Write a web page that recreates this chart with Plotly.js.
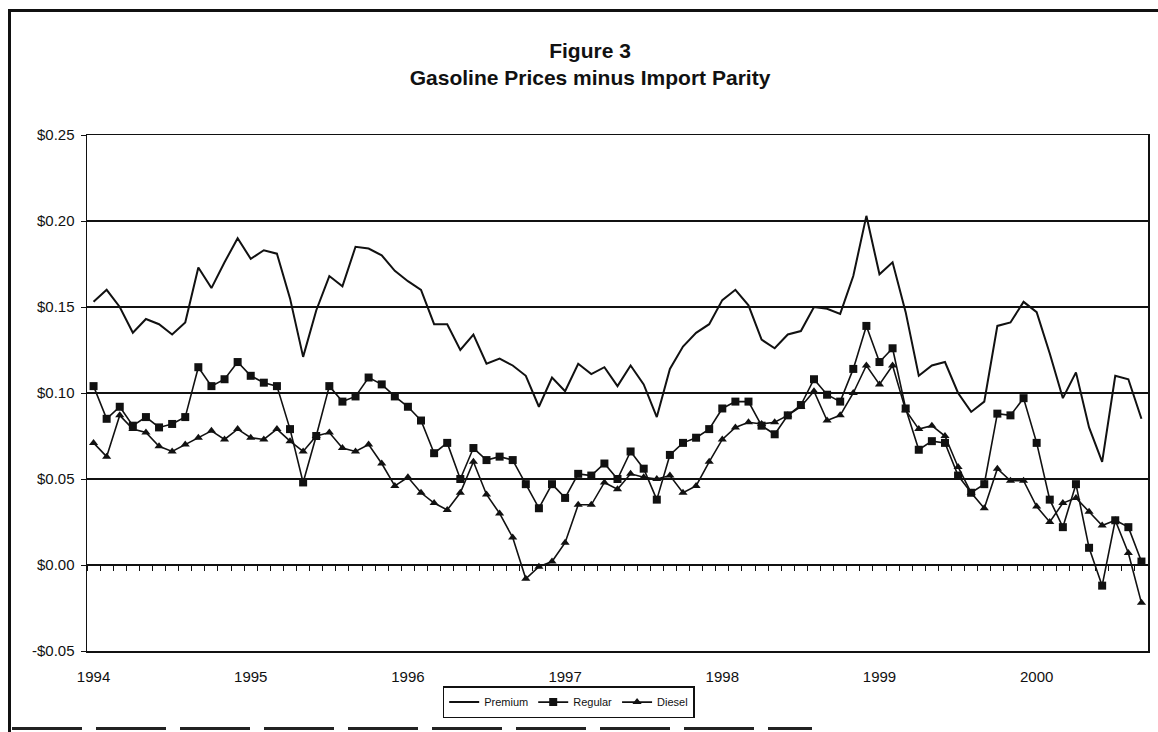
<!DOCTYPE html>
<html>
<head>
<meta charset="utf-8">
<script src="https://cdn.plot.ly/plotly-3.0.1.min.js"></script>
<style>
  html, body { margin: 0; padding: 0; background: #fff; }
  #wrap { position: relative; width: 1158px; height: 732px; overflow: hidden; }
  #chart { position: absolute; left: 0; top: 0; width: 1158px; height: 732px; }
  #frame { position: absolute; left: 8px; top: 9px; width: 1160px; height: 740px;
           border-left: 3px solid #111; border-top: 3px solid #111; pointer-events: none; }
  #base { position: absolute; left: 12px; top: 727px; width: 800px; height: 3px;
          background: repeating-linear-gradient(90deg, #222 0px, #222 70px, transparent 70px, transparent 84px);
          pointer-events: none; }
</style>
</head>
<body>
<div id="wrap">
  <div id="chart"></div>
  <div id="frame"></div>
  <div id="base"></div>
</div>
<script>
// Tick labels
var yearLabels = ['1994', '1995', '1996', '1997', '1998', '1999', '2000'];
var yearTickIndex = [0, 12, 24, 36, 48, 60, 72];
var yTickValues = [-0.05, 0.00, 0.05, 0.10, 0.15, 0.20, 0.25];
var yTickText = ['-$0.05', '$0.00', '$0.05', '$0.10', '$0.15', '$0.20', '$0.25'];

// Monthly series, Jan 1994 .. Sep 2000 ($ per gallon)
var premium = [
  0.153, 0.160, 0.150, 0.135, 0.143, 0.140, 0.134, 0.141, 0.173, 0.161, 0.176, 0.190,
  0.178, 0.183, 0.181, 0.155, 0.121, 0.148, 0.168, 0.162, 0.185, 0.184, 0.180, 0.171,
  0.165, 0.160, 0.140, 0.140, 0.125, 0.134, 0.117, 0.120, 0.116, 0.110, 0.092, 0.109,
  0.101, 0.117, 0.111, 0.115, 0.104, 0.116, 0.105, 0.086, 0.114, 0.127, 0.135, 0.140,
  0.154, 0.160, 0.151, 0.131, 0.126, 0.134, 0.136, 0.150, 0.149, 0.146, 0.168, 0.203,
  0.169, 0.176, 0.147, 0.110, 0.116, 0.118, 0.100, 0.089, 0.095, 0.139, 0.141, 0.153,
  0.147, 0.123, 0.097, 0.112, 0.080, 0.060, 0.110, 0.108, 0.085
];
var regular = [
  0.104, 0.085, 0.092, 0.081, 0.086, 0.080, 0.082, 0.086, 0.115, 0.104, 0.108, 0.118,
  0.110, 0.106, 0.104, 0.079, 0.048, 0.075, 0.104, 0.095, 0.098, 0.109, 0.105, 0.098,
  0.092, 0.084, 0.065, 0.071, 0.050, 0.068, 0.061, 0.063, 0.061, 0.047, 0.033, 0.047,
  0.039, 0.053, 0.052, 0.059, 0.050, 0.066, 0.056, 0.038, 0.064, 0.071, 0.074, 0.079,
  0.091, 0.095, 0.095, 0.081, 0.076, 0.087, 0.093, 0.108, 0.099, 0.095, 0.114, 0.139,
  0.118, 0.126, 0.091, 0.067, 0.072, 0.071, 0.052, 0.042, 0.047, 0.088, 0.087, 0.097,
  0.071, 0.038, 0.022, 0.047, 0.010, -0.012, 0.026, 0.022, 0.002
];
var diesel = [
  0.071, 0.063, 0.087, 0.079, 0.077, 0.069, 0.066, 0.070, 0.074, 0.078, 0.073, 0.079,
  0.074, 0.073, 0.079, 0.072, 0.066, 0.075, 0.077, 0.068, 0.066, 0.070, 0.059, 0.046,
  0.051, 0.042, 0.036, 0.032, 0.042, 0.060, 0.041, 0.030, 0.016, -0.008, -0.001, 0.002,
  0.013, 0.035, 0.035, 0.048, 0.044, 0.053, 0.051, 0.050, 0.052, 0.042, 0.046, 0.060,
  0.073, 0.080, 0.083, 0.082, 0.083, 0.087, 0.092, 0.101, 0.084, 0.087, 0.100, 0.116,
  0.105, 0.116, 0.090, 0.079, 0.081, 0.075, 0.057, 0.042, 0.033, 0.056, 0.049, 0.049,
  0.034, 0.025, 0.036, 0.039, 0.031, 0.023, 0.026, 0.007, -0.022
];

var monthIndex = premium.map(function (_, i) { return i; });

var traces = [
  { name: 'Premium', x: monthIndex, y: premium, type: 'scatter', mode: 'lines',
    line: { color: '#111', width: 2 } },
  { name: 'Regular', x: monthIndex, y: regular, type: 'scatter', mode: 'lines+markers',
    line: { color: '#111', width: 1.6 },
    marker: { symbol: 'square', size: 8, color: '#111' } },
  { name: 'Diesel', x: monthIndex, y: diesel, type: 'scatter', mode: 'lines+markers',
    line: { color: '#111', width: 1.6 },
    marker: { symbol: 'triangle-up', size: 8, color: '#111' } },
  { x: [null], y: [null], xaxis: 'x2', showlegend: false, hoverinfo: 'skip', mode: 'lines' }
];

var layout = {
  width: 1158, height: 732,
  margin: { l: 87, r: 10, t: 135, b: 81 },
  paper_bgcolor: '#fff', plot_bgcolor: '#fff',
  font: { family: 'Liberation Sans, Arial, sans-serif', color: '#111' },
  title: {
    text: '<b>Figure 3</b><br><b>Gasoline Prices minus Import Parity</b>',
    font: { family: 'Liberation Sans, Arial, sans-serif', size: 21, color: '#111' },
    x: 590 / 1158, xref: 'container', xanchor: 'center',
    y: 1 - 58 / 732, yref: 'container', yanchor: 'middle'
  },
  xaxis: {
    range: [-0.5, 80.5], tickmode: 'array', tickvals: yearTickIndex, ticktext: yearLabels,
    showgrid: false, zeroline: false, showline: true, mirror: true,
    linecolor: '#111', linewidth: 1.5,
    ticks: 'outside', ticklen: 11, tickcolor: 'rgba(0,0,0,0)',
    tickfont: { size: 15, color: '#111' }
  },
  xaxis2: {
    overlaying: 'x', anchor: 'free', position: 1 / 6, side: 'bottom',
    range: [-0.5, 80.5], tickmode: 'linear', tick0: -0.5, dtick: 1,
    ticks: 'outside', ticklen: 5, tickwidth: 1, tickcolor: '#111',
    showticklabels: false, showgrid: false, zeroline: false, showline: false
  },
  yaxis: {
    range: [-0.05, 0.25], tickmode: 'array', tickvals: yTickValues, ticktext: yTickText,
    showgrid: true, gridcolor: '#111', gridwidth: 1.5,
    zeroline: false, showline: true, mirror: true, linecolor: '#111', linewidth: 1.5,
    ticks: 'outside', ticklen: 5, tickcolor: '#111', ticklabelstandoff: 3,
    tickfont: { size: 15, color: '#111' }
  },
  showlegend: true,
  legend: {
    orientation: 'h', x: 0.454, xanchor: 'center', y: -0.099, yanchor: 'middle',
    bordercolor: '#111', borderwidth: 1.5, bgcolor: '#fff',
    font: { size: 11, color: '#111' }, itemwidth: 30, traceorder: 'normal'
  }
};

Plotly.newPlot('chart', traces, layout, { displayModeBar: false, staticPlot: true });
</script>
</body>
</html>
